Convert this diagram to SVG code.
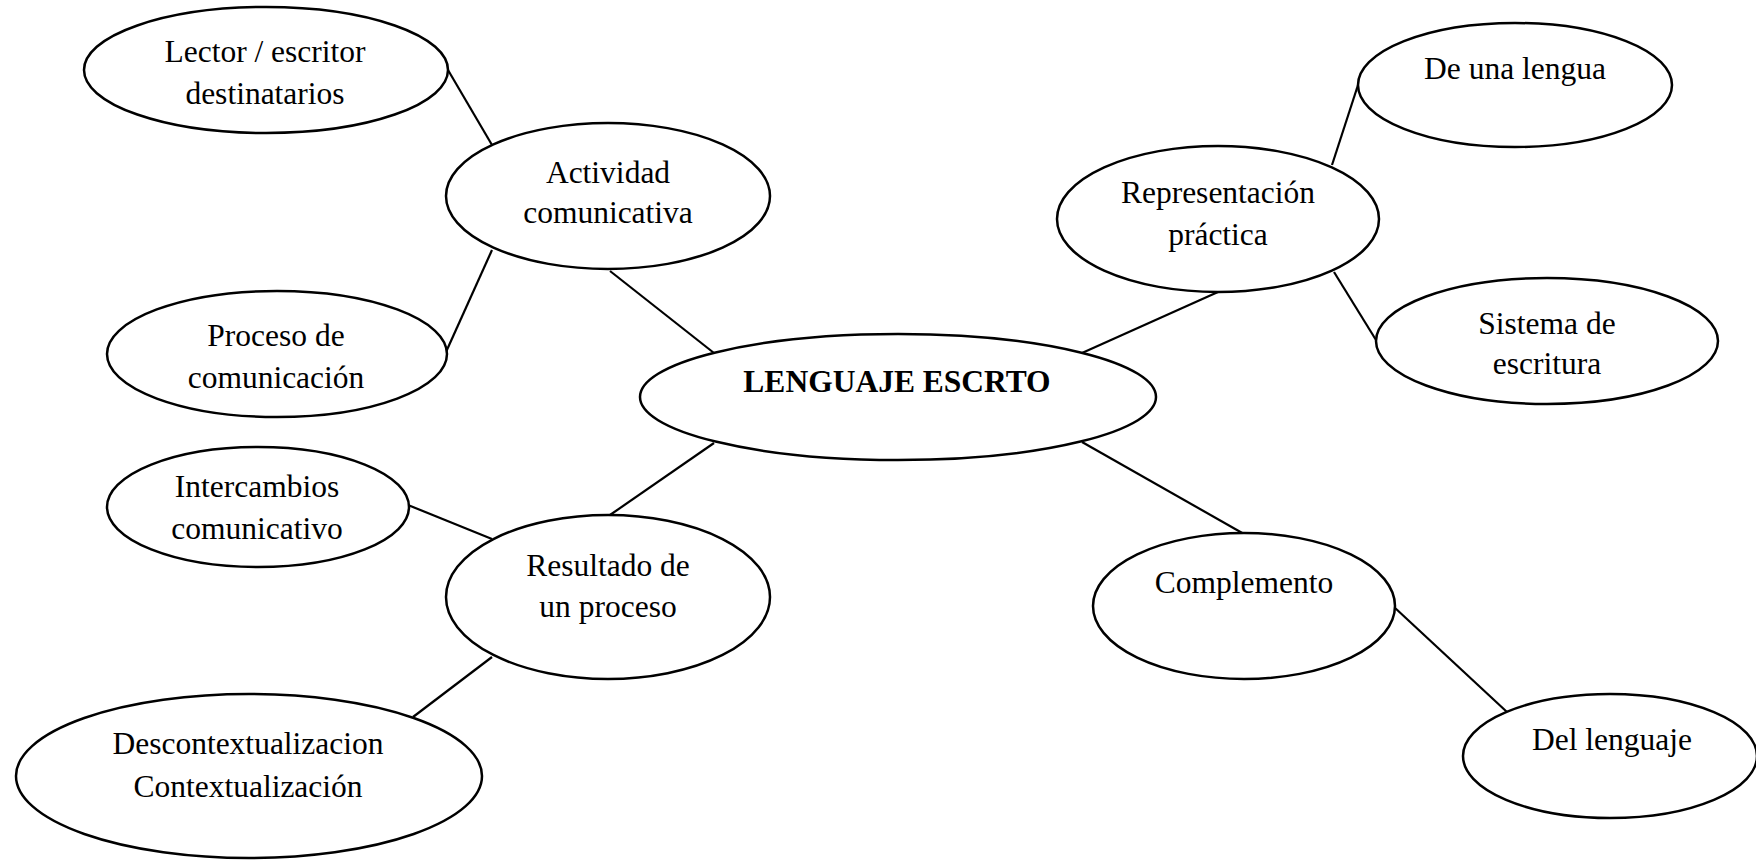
<svg xmlns="http://www.w3.org/2000/svg" width="1756" height="860" viewBox="0 0 1756 860">
<style>
.n ellipse{fill:#fff;stroke:#000;stroke-width:2.5}
.c line{stroke:#000;stroke-width:2.2}
text{font-family:"Liberation Serif","Times New Roman",serif;font-size:31.5px;fill:#000;text-anchor:middle}
.b{font-weight:bold}
</style>
<rect width="1756" height="860" fill="#fff"/>
<g id="connectors" class="c">
<line x1="448" y1="70" x2="492" y2="145"/>
<line x1="492" y1="250" x2="446" y2="352"/>
<line x1="610" y1="271" x2="714" y2="353"/>
<line x1="1082" y1="353" x2="1218" y2="292"/>
<line x1="1332" y1="165" x2="1358" y2="85"/>
<line x1="1334" y1="272" x2="1376" y2="340"/>
<line x1="714" y1="443" x2="610" y2="515"/>
<line x1="408" y1="505" x2="492" y2="539"/>
<line x1="492" y1="657" x2="413" y2="717"/>
<line x1="1082" y1="442" x2="1244" y2="534"/>
<line x1="1394" y1="607" x2="1507" y2="712"/>
</g>
<g id="lector" class="n"><ellipse cx="266" cy="70" rx="182" ry="63"/><text x="265" y="62">Lector / escritor</text><text x="265" y="104">destinatarios</text></g>
<g id="actividad" class="n"><ellipse cx="608" cy="196" rx="162" ry="73"/><text x="608" y="183">Actividad</text><text x="608" y="223">comunicativa</text></g>
<g id="proceso" class="n"><ellipse cx="277" cy="354" rx="170" ry="63"/><text x="276" y="346">Proceso de</text><text x="276" y="388">comunicación</text></g>
<g id="representacion" class="n"><ellipse cx="1218" cy="219" rx="161" ry="73"/><text x="1218" y="203">Representación</text><text x="1218" y="245">práctica</text></g>
<g id="deunalengua" class="n"><ellipse cx="1515" cy="85" rx="157" ry="62"/><text x="1515" y="79">De una lengua</text></g>
<g id="sistema" class="n"><ellipse cx="1547" cy="341" rx="171" ry="63"/><text x="1547" y="334">Sistema de</text><text x="1547" y="374">escritura</text></g>
<g id="central" class="n"><ellipse cx="898" cy="397" rx="258" ry="63"/><text class="b" x="897" y="392">LENGUAJE ESCRTO</text></g>
<g id="intercambios" class="n"><ellipse cx="258" cy="507" rx="151" ry="60"/><text x="257" y="497">Intercambios</text><text x="257" y="539">comunicativo</text></g>
<g id="resultado" class="n"><ellipse cx="608" cy="597" rx="162" ry="82"/><text x="608" y="576">Resultado de</text><text x="608" y="617">un proceso</text></g>
<g id="complemento" class="n"><ellipse cx="1244" cy="606" rx="151" ry="73"/><text x="1244" y="593">Complemento</text></g>
<g id="descontextualizacion" class="n"><ellipse cx="249" cy="776" rx="233" ry="82"/><text x="248" y="754">Descontextualizacion</text><text x="248" y="797">Contextualización</text></g>
<g id="dellenguaje" class="n"><ellipse cx="1610" cy="756" rx="147" ry="62"/><text x="1612" y="750">Del lenguaje</text></g>
</svg>
